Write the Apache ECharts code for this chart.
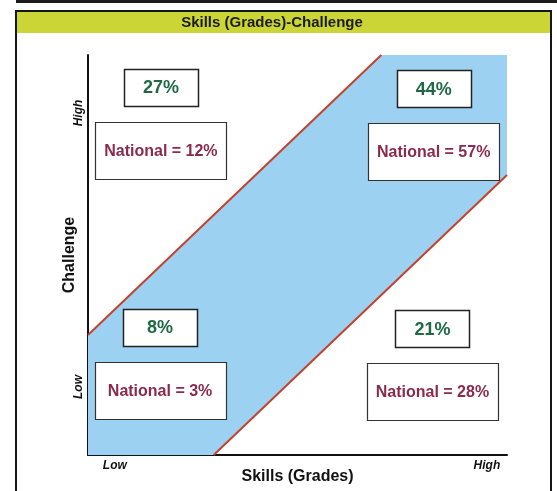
<!DOCTYPE html>
<html><head><meta charset="utf-8">
<script src="https://cdn.jsdelivr.net/npm/echarts@6/dist/echarts.min.js"></script>
<style>html,body{margin:0;padding:0;background:#fff}#c{width:557px;height:491px}</style>
</head><body><div id="c"></div>
<script>
// ---- data ----
const titleText = 'Skills (Grades)-Challenge';
const xAxisName = 'Skills (Grades)';
const yAxisName = 'Challenge';
const levelLabels = ['Low', 'High'];
// boundaries of the "flow" band (data units, 0-100 on both axes)
const upperLine = [[0, 30], [70, 100]];
const lowerLine = [[30, 0], [100, 70]];
const quadrants = ['Low skills / High challenge', 'High skills / High challenge', 'Low skills / Low challenge', 'High skills / Low challenge'];
const schoolPct = ['27%', '44%', '8%', '21%'];
const nationalPct = ['12%', '57%', '3%', '28%'];

// ---- layout (positions in data units, sizes in px) ----
const boxCenters = [[17.4, 92], [82.5, 91.6], [17.2, 32], [82.2, 31.6]];
const nationalDrop = 15.8;
const xLabelPos = [6.4, 95.2];
const yLabelPos = [17, 85.5];

const chart = echarts.init(document.getElementById('c'));
const bandPoly = [[0, 0], lowerLine[0], lowerLine[1], [100, 100], upperLine[1], upperLine[0]];
const lineCol = '#c3412d';
const font = '"Liberation Sans", Arial, sans-serif';

chart.setOption({
  animation: false,
  grid: { left: 88, top: 55, width: 419, height: 400, containLabel: false, outerBoundsMode: 'none' },
  xAxis: {
    type: 'value', min: 0, max: 100,
    name: xAxisName, nameLocation: 'middle', nameGap: 14, nameMoveOverlap: false,
    nameTextStyle: { fontFamily: font, fontWeight: 'bold', fontSize: 16, color: '#111' },
    axisLine: { show: true, lineStyle: { color: '#111', width: 2 } },
    axisTick: { show: false }, splitLine: { show: false },
    axisLabel: {
      customValues: xLabelPos,
      formatter: v => v < 50 ? levelLabels[0] : levelLabels[1],
      fontFamily: font, fontStyle: 'italic', fontWeight: 'bold', fontSize: 12, color: '#111', margin: 5
    }
  },
  yAxis: {
    type: 'value', min: 0, max: 100,
    name: yAxisName, nameLocation: 'middle', nameGap: 10, nameRotate: 90, nameMoveOverlap: false,
    nameTextStyle: { fontFamily: font, fontWeight: 'bold', fontSize: 16, color: '#111' },
    axisLine: { show: true, lineStyle: { color: '#111', width: 2 } },
    axisTick: { show: false }, splitLine: { show: false },
    axisLabel: {
      customValues: yLabelPos, rotate: 90,
      formatter: v => v < 50 ? levelLabels[0] : levelLabels[1],
      fontFamily: font, fontStyle: 'italic', fontWeight: 'bold', fontSize: 12, color: '#111', margin: 3
    }
  },
  graphic: [
    { type: 'rect', shape: { x: 16, y: 0, width: 541, height: 3 }, style: { fill: '#1b1b1b' }, z: 100 },
    { type: 'rect', shape: { x: 17, y: 12, width: 533, height: 21 }, style: { fill: '#cbd536' }, z: 100 },
    { type: 'rect', shape: { x: 16, y: 11, width: 535, height: 490 }, style: { fill: 'none', stroke: '#151515', lineWidth: 2 }, z: 101 },
    { type: 'text', x: 272, y: 23, style: { text: titleText, fill: '#1c1c1c', font: 'bold 15px ' + font, align: 'center', verticalAlign: 'middle' }, z: 102 }
  ],
  series: [
    {
      type: 'custom', name: 'band', silent: true, z: 1,
      data: [[0, 0]],
      renderItem: (params, api) => ({
        type: 'polygon',
        shape: { points: bandPoly.map(p => api.coord(p)) },
        style: { fill: '#9dd1f1' }
      })
    },
    { type: 'line', name: 'upper', data: upperLine, symbol: 'none', z: 3, lineStyle: { color: lineCol, width: 2 } },
    { type: 'line', name: 'lower', data: lowerLine, symbol: 'none', z: 3, lineStyle: { color: lineCol, width: 2 } },
    {
      type: 'custom', name: 'boxes', silent: true, z: 5,
      data: schoolPct.map((p, i) => [i, i]),
      renderItem: (params, api) => {
        const i = params.dataIndex;
        const c1 = api.coord(boxCenters[i]);
        const c2 = api.coord([boxCenters[i][0], boxCenters[i][1] - nationalDrop]);
        const w1 = 74, h1 = 37, w2 = 131, h2 = 57;
        return {
          type: 'group',
          children: [
            { type: 'rect', shape: { x: Math.round(c1[0] - w1 / 2) + 0.5, y: Math.round(c1[1] - h1 / 2) + 0.5, width: w1, height: h1 }, style: { fill: '#fff', stroke: '#222', lineWidth: 1.5 } },
            { type: 'text', style: { text: schoolPct[i], x: c1[0], y: c1[1] + 1, align: 'center', verticalAlign: 'middle', fill: '#1f6a45', font: 'bold 18px ' + font } },
            { type: 'rect', shape: { x: Math.round(c2[0] - w2 / 2) + 0.5, y: Math.round(c2[1] - h2 / 2) + 0.5, width: w2, height: h2 }, style: { fill: '#fff', stroke: '#333', lineWidth: 1.2 } },
            { type: 'text', style: { text: 'National = ' + nationalPct[i], x: c2[0], y: c2[1] + 1, align: 'center', verticalAlign: 'middle', fill: '#8a2a4d', font: 'bold 16px ' + font } }
          ]
        };
      }
    }
  ]
});
</script>
</body></html>
